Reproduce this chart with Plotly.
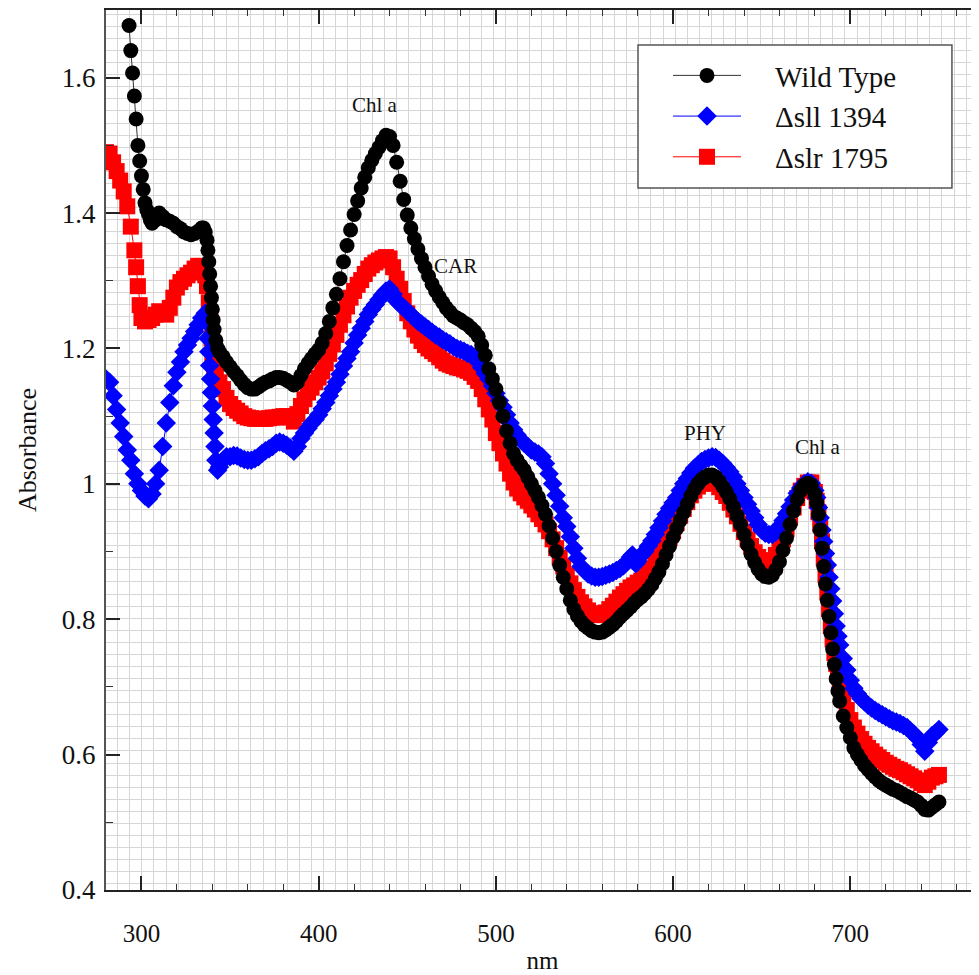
import plotly.graph_objects as go

# ---------------- data ----------------
# (wavelength nm, absorbance) pairs for each strain
wt_data = [
    (293, 1.677), (294, 1.640), (295, 1.607), (296, 1.573), (297, 1.539), (298, 1.500), (299, 1.477), (300, 1.455),
    (301, 1.435), (302, 1.415), (303, 1.405), (304, 1.398), (305, 1.390), (306, 1.385), (308, 1.390), (310, 1.400),
    (312, 1.395), (314, 1.390), (316, 1.388), (318, 1.385), (320, 1.380), (322, 1.377), (324, 1.372), (326, 1.370),
    (328, 1.368), (330, 1.370), (332, 1.373), (334, 1.378), (335, 1.378), (336, 1.372), (337, 1.360), (337.5, 1.345),
    (338, 1.328), (338.5, 1.310), (339, 1.292), (339.5, 1.275), (340, 1.258), (340.5, 1.242), (341, 1.228),
    (342, 1.212), (343, 1.200), (344, 1.195), (346, 1.188), (348, 1.180), (350, 1.173), (352, 1.166), (354, 1.160),
    (356, 1.153), (358, 1.147), (360, 1.142), (362, 1.140), (364, 1.140), (366, 1.143), (368, 1.147), (370, 1.150),
    (372, 1.152), (374, 1.155), (376, 1.157), (378, 1.157), (380, 1.156), (382, 1.153), (384, 1.150), (386, 1.146),
    (388, 1.150), (390, 1.160), (392, 1.170), (394, 1.178), (396, 1.185), (398, 1.192), (400, 1.198), (402, 1.208),
    (404, 1.222), (406, 1.240), (408, 1.260), (410, 1.280), (412, 1.303), (414, 1.328), (416, 1.352), (418, 1.375),
    (420, 1.398), (422, 1.418), (424, 1.437), (426, 1.453), (428, 1.467), (430, 1.478), (432, 1.488), (434, 1.497),
    (436, 1.507), (438, 1.515), (440, 1.513), (442, 1.500), (444, 1.475), (446, 1.447), (448, 1.420), (450, 1.397),
    (452, 1.378), (454, 1.362), (456, 1.347), (458, 1.333), (460, 1.320), (462, 1.307), (464, 1.295), (466, 1.285),
    (468, 1.276), (470, 1.268), (472, 1.260), (474, 1.254), (476, 1.248), (478, 1.245), (480, 1.242), (482, 1.238),
    (484, 1.235), (486, 1.230), (488, 1.225), (490, 1.218), (492, 1.205), (494, 1.190), (496, 1.170), (498, 1.155),
    (500, 1.140), (502, 1.120), (504, 1.100), (506, 1.078), (508, 1.060), (510, 1.045), (512, 1.035), (514, 1.027),
    (516, 1.020), (518, 1.010), (520, 1.000), (522, 0.990), (524, 0.980), (526, 0.968), (528, 0.955), (530, 0.938),
    (532, 0.920), (534, 0.900), (536, 0.880), (538, 0.862), (540, 0.845), (542, 0.828), (544, 0.815), (546, 0.805),
    (548, 0.797), (550, 0.791), (552, 0.787), (554, 0.783), (556, 0.781), (558, 0.780), (560, 0.781), (562, 0.784),
    (564, 0.788), (566, 0.792), (568, 0.797), (570, 0.803), (572, 0.808), (574, 0.813), (576, 0.818), (578, 0.824),
    (580, 0.829), (582, 0.833), (584, 0.838), (586, 0.844), (588, 0.851), (590, 0.860), (592, 0.870), (594, 0.882),
    (596, 0.895), (598, 0.908), (600, 0.921), (602, 0.934), (604, 0.946), (606, 0.958), (608, 0.970), (610, 0.982),
    (612, 0.992), (614, 1.000), (616, 1.006), (618, 1.010), (620, 1.013), (622, 1.013), (624, 1.010), (626, 1.004),
    (628, 0.996), (630, 0.988), (632, 0.978), (634, 0.966), (636, 0.953), (638, 0.940), (640, 0.925), (642, 0.910),
    (644, 0.896), (646, 0.884), (648, 0.874), (650, 0.867), (652, 0.863), (654, 0.862), (656, 0.865), (658, 0.873),
    (660, 0.885), (662, 0.902), (664, 0.920), (666, 0.940), (668, 0.960), (670, 0.977), (672, 0.990), (674, 0.998),
    (676, 1.001), (678, 0.998), (680, 0.985), (681, 0.972), (682, 0.955), (683, 0.932), (684, 0.905), (685, 0.878),
    (686, 0.852), (687, 0.828), (688, 0.804), (689, 0.780), (690, 0.756), (691, 0.733), (692, 0.712), (693, 0.694),
    (694, 0.679), (696, 0.657), (698, 0.640), (700, 0.625), (702, 0.610), (704, 0.600), (706, 0.592), (708, 0.584),
    (710, 0.578), (712, 0.572), (714, 0.567), (716, 0.562), (718, 0.558), (720, 0.555), (722, 0.552), (724, 0.549),
    (726, 0.547), (728, 0.544), (730, 0.541), (732, 0.538), (734, 0.536), (736, 0.533), (738, 0.530), (740, 0.525),
    (742, 0.519), (744, 0.518), (746, 0.522), (748, 0.526), (750, 0.530),
]

sll_data = [
    (280, 1.155), (282, 1.150), (284, 1.130), (286, 1.110), (288, 1.090), (290, 1.070), (292, 1.050), (294, 1.035),
    (296, 1.015), (298, 1.000), (300, 0.990), (302, 0.982), (304, 0.978), (306, 0.985), (308, 1.000), (310, 1.020),
    (312, 1.055), (314, 1.090), (316, 1.120), (318, 1.145), (320, 1.165), (322, 1.180), (324, 1.195), (326, 1.205),
    (328, 1.215), (330, 1.225), (332, 1.235), (334, 1.245), (336, 1.252), (337, 1.238), (337.5, 1.215), (338, 1.195),
    (338.5, 1.175), (339, 1.155), (339.5, 1.135), (340, 1.115), (340.5, 1.095), (341, 1.075), (341.5, 1.055),
    (342, 1.035), (343, 1.020), (344, 1.025), (346, 1.035), (348, 1.040), (350, 1.040), (352, 1.042), (354, 1.041),
    (356, 1.038), (358, 1.036), (360, 1.035), (362, 1.035), (364, 1.037), (366, 1.040), (368, 1.045), (370, 1.049),
    (372, 1.052), (374, 1.055), (376, 1.060), (378, 1.062), (380, 1.060), (382, 1.057), (384, 1.053), (386, 1.048),
    (388, 1.055), (390, 1.067), (392, 1.075), (394, 1.082), (396, 1.089), (398, 1.095), (400, 1.102), (402, 1.111),
    (404, 1.120), (406, 1.130), (408, 1.140), (410, 1.150), (412, 1.162), (414, 1.174), (416, 1.185), (418, 1.195),
    (420, 1.208), (422, 1.220), (424, 1.230), (426, 1.240), (428, 1.250), (430, 1.258), (432, 1.265), (434, 1.272),
    (436, 1.279), (438, 1.285), (440, 1.288), (442, 1.280), (444, 1.270), (446, 1.265), (448, 1.260), (450, 1.255),
    (452, 1.250), (454, 1.245), (456, 1.240), (458, 1.236), (460, 1.232), (462, 1.228), (464, 1.224), (466, 1.220),
    (468, 1.217), (470, 1.213), (472, 1.210), (474, 1.207), (476, 1.203), (478, 1.200), (480, 1.198), (482, 1.196),
    (484, 1.193), (486, 1.191), (488, 1.187), (490, 1.180), (492, 1.172), (494, 1.163), (496, 1.155), (498, 1.145),
    (500, 1.134), (502, 1.123), (504, 1.113), (506, 1.102), (508, 1.090), (510, 1.080), (512, 1.072), (514, 1.065),
    (516, 1.060), (518, 1.055), (520, 1.050), (522, 1.047), (524, 1.044), (526, 1.040), (528, 1.030), (530, 1.015),
    (532, 1.000), (534, 0.983), (536, 0.967), (538, 0.950), (540, 0.937), (542, 0.922), (544, 0.905), (546, 0.890),
    (548, 0.878), (550, 0.872), (552, 0.867), (554, 0.864), (556, 0.862), (558, 0.862), (560, 0.863), (562, 0.865),
    (564, 0.867), (566, 0.869), (568, 0.872), (570, 0.875), (572, 0.879), (574, 0.885), (576, 0.892), (577, 0.895),
    (578, 0.888), (579, 0.882), (580, 0.886), (582, 0.894), (584, 0.900), (586, 0.908), (588, 0.916), (590, 0.925),
    (592, 0.935), (594, 0.945), (596, 0.955), (598, 0.964), (600, 0.972), (602, 0.980), (604, 0.990), (606, 1.000),
    (608, 1.008), (610, 1.016), (612, 1.023), (614, 1.028), (616, 1.033), (618, 1.036), (620, 1.038), (622, 1.040),
    (624, 1.039), (626, 1.035), (628, 1.030), (630, 1.024), (632, 1.018), (634, 1.010), (636, 1.000), (638, 0.990),
    (640, 0.980), (642, 0.970), (644, 0.960), (646, 0.950), (648, 0.940), (650, 0.932), (652, 0.927), (654, 0.925),
    (656, 0.925), (658, 0.929), (660, 0.937), (662, 0.946), (664, 0.956), (666, 0.966), (668, 0.976), (670, 0.986),
    (672, 0.994), (674, 1.000), (676, 1.003), (678, 1.001), (680, 0.990), (681, 0.980), (682, 0.965), (683, 0.950),
    (684, 0.932), (685, 0.915), (686, 0.897), (687, 0.880), (688, 0.862), (689, 0.845), (690, 0.827), (691, 0.808),
    (692, 0.790), (693, 0.775), (694, 0.762), (696, 0.742), (698, 0.725), (700, 0.710), (702, 0.698), (704, 0.690),
    (706, 0.683), (708, 0.678), (710, 0.673), (712, 0.669), (714, 0.665), (716, 0.662), (718, 0.659), (720, 0.656),
    (722, 0.653), (724, 0.650), (726, 0.648), (728, 0.646), (730, 0.643), (732, 0.640), (734, 0.635), (736, 0.630),
    (738, 0.624), (740, 0.615), (742, 0.605), (744, 0.618), (746, 0.628), (748, 0.632), (750, 0.637),
]

slr_data = [
    (280, 1.490), (282, 1.488), (284, 1.475), (286, 1.462), (288, 1.448), (290, 1.432), (292, 1.410), (294, 1.380),
    (296, 1.345), (297, 1.320), (298, 1.292), (299, 1.264), (300, 1.245), (302, 1.240), (304, 1.242), (306, 1.245),
    (308, 1.250), (310, 1.255), (312, 1.253), (314, 1.250), (316, 1.260), (318, 1.275), (320, 1.290), (322, 1.298),
    (324, 1.303), (326, 1.308), (328, 1.312), (330, 1.318), (332, 1.322), (334, 1.322), (335, 1.318), (336, 1.308),
    (337, 1.292), (338, 1.268), (339, 1.240), (339.5, 1.215), (340, 1.190), (341, 1.172), (342, 1.162), (344, 1.150),
    (346, 1.140), (348, 1.127), (350, 1.118), (352, 1.112), (354, 1.108), (356, 1.104), (358, 1.100), (360, 1.098),
    (362, 1.097), (364, 1.096), (366, 1.096), (368, 1.096), (370, 1.096), (372, 1.097), (374, 1.098), (376, 1.098),
    (378, 1.099), (380, 1.100), (382, 1.100), (384, 1.098), (386, 1.092), (388, 1.103), (390, 1.115), (392, 1.125),
    (394, 1.135), (396, 1.142), (398, 1.150), (400, 1.157), (402, 1.166), (404, 1.178), (406, 1.192), (408, 1.206),
    (410, 1.220), (412, 1.235), (414, 1.249), (416, 1.262), (418, 1.275), (420, 1.285), (422, 1.294), (424, 1.301),
    (426, 1.310), (428, 1.318), (430, 1.323), (432, 1.327), (434, 1.330), (436, 1.333), (438, 1.335), (440, 1.333),
    (442, 1.320), (444, 1.303), (446, 1.288), (448, 1.270), (450, 1.252), (452, 1.240), (454, 1.228), (456, 1.219),
    (458, 1.211), (460, 1.205), (462, 1.200), (464, 1.196), (466, 1.192), (468, 1.187), (470, 1.182), (472, 1.178),
    (474, 1.176), (476, 1.174), (478, 1.172), (480, 1.171), (482, 1.169), (484, 1.167), (486, 1.164), (488, 1.158),
    (490, 1.152), (492, 1.140), (494, 1.125), (496, 1.110), (498, 1.095), (500, 1.075), (502, 1.060), (504, 1.045),
    (506, 1.030), (508, 1.015), (510, 1.002), (512, 0.993), (514, 0.986), (516, 0.980), (518, 0.975), (520, 0.968),
    (522, 0.962), (524, 0.955), (526, 0.948), (528, 0.940), (530, 0.930), (532, 0.918), (534, 0.905), (536, 0.891),
    (538, 0.878), (540, 0.865), (542, 0.853), (544, 0.843), (546, 0.833), (548, 0.825), (550, 0.819), (552, 0.813),
    (554, 0.809), (556, 0.807), (558, 0.806), (560, 0.807), (562, 0.810), (564, 0.815), (566, 0.820), (568, 0.826),
    (570, 0.832), (572, 0.837), (574, 0.842), (576, 0.847), (578, 0.850), (580, 0.854), (582, 0.857), (584, 0.862),
    (586, 0.868), (588, 0.875), (590, 0.884), (592, 0.892), (594, 0.900), (596, 0.910), (598, 0.920), (600, 0.930),
    (602, 0.942), (604, 0.953), (606, 0.963), (608, 0.973), (610, 0.983), (612, 0.990), (614, 0.996), (616, 1.000),
    (618, 1.003), (620, 1.005), (622, 1.004), (624, 1.000), (626, 0.995), (628, 0.988), (630, 0.982), (632, 0.972),
    (634, 0.962), (636, 0.952), (638, 0.941), (640, 0.929), (642, 0.918), (644, 0.908), (646, 0.899), (648, 0.892),
    (650, 0.887), (652, 0.885), (654, 0.884), (656, 0.887), (658, 0.895), (660, 0.905), (662, 0.918), (664, 0.933),
    (666, 0.950), (668, 0.965), (670, 0.979), (672, 0.990), (674, 0.997), (676, 1.002), (678, 1.002), (680, 0.988),
    (681, 0.975), (682, 0.958), (683, 0.940), (684, 0.915), (685, 0.890), (686, 0.865), (687, 0.840), (688, 0.815),
    (689, 0.790), (690, 0.770), (691, 0.750), (692, 0.734), (693, 0.720), (694, 0.707), (696, 0.686), (698, 0.666),
    (700, 0.651), (702, 0.640), (704, 0.631), (706, 0.623), (708, 0.616), (710, 0.610), (712, 0.605), (714, 0.600),
    (716, 0.596), (718, 0.592), (720, 0.588), (722, 0.585), (724, 0.582), (726, 0.579), (728, 0.577), (730, 0.574),
    (732, 0.571), (734, 0.568), (736, 0.565), (738, 0.562), (740, 0.558), (742, 0.555), (744, 0.560), (746, 0.566),
    (748, 0.568), (750, 0.570),
]

series_names = ["Wild Type", "\u0394sll 1394", "\u0394slr 1795"]
x_ticks = [300, 400, 500, 600, 700]
y_ticks = [0.4, 0.6, 0.8, 1.0, 1.2, 1.4, 1.6]
y_ticktext = ["0.4", "0.6", "0.8", "1", "1.2", "1.4", "1.6"]
peak_labels = ["Chl a", "CAR", "PHY", "Chl a"]
peak_nm = [432, 477, 618, 682]
peak_abs = [1.559, 1.322, 1.075, 1.054]

X_RANGE = [280, 772.6]
Y_RANGE = [0.4, 1.7]
SERIF = "Liberation Serif"
PAD = "\u00a0\u00a0\u00a0\u00a0"

wt_nm = [p[0] for p in wt_data]
wt_abs = [p[1] for p in wt_data]
sll_nm = [p[0] for p in sll_data]
sll_abs = [p[1] for p in sll_data]
slr_nm = [p[0] for p in slr_data]
slr_abs = [p[1] for p in slr_data]

fig = go.Figure()

# drawing order: red (bottom), blue, black (top); legend order via legendrank
fig.add_trace(go.Scatter(x=slr_nm, y=slr_abs, name=PAD + series_names[2], mode="lines+markers",
                         line=dict(color="#ff0000", width=1),
                         marker=dict(symbol="square", size=16, color="#ff0000", line=dict(width=0)),
                         legendrank=3))
fig.add_trace(go.Scatter(x=sll_nm, y=sll_abs, name=PAD + series_names[1], mode="lines+markers",
                         line=dict(color="#0000ff", width=1),
                         marker=dict(symbol="diamond", size=15, color="#0000ff", line=dict(width=0)),
                         legendrank=2))
fig.add_trace(go.Scatter(x=wt_nm, y=wt_abs, name=PAD + series_names[0], mode="lines+markers",
                         line=dict(color="#333333", width=1),
                         marker=dict(symbol="circle", size=15, color="#000000", line=dict(width=0)),
                         legendrank=1))
# empty traces that activate the grid-only and right-tick overlay axes
fig.add_trace(go.Scatter(x=[], y=[], xaxis="x3", yaxis="y3", showlegend=False, hoverinfo="skip"))
fig.add_trace(go.Scatter(x=[], y=[], yaxis="y2", showlegend=False, hoverinfo="skip"))

for txt, xx, yy in zip(peak_labels, peak_nm, peak_abs):
    fig.add_annotation(x=xx, y=yy, text=txt, showarrow=False,
                       font=dict(family=SERIF, size=21, color="#111111"))

# legend frame
fig.add_shape(type="rect", xref="paper", yref="paper", x0=0.6094, x1=0.969, y0=0.7977, y1=0.9602,
              line=dict(color="#555555", width=1.5), fillcolor="white", layer="above")

fig.update_layout(
    width=971, height=967,
    margin=dict(l=98, r=0, t=2, b=85),
    paper_bgcolor="white", plot_bgcolor="white",
    font=dict(family=SERIF, color="#111111"),
    showlegend=True,
    legend=dict(x=0.6094, y=0.9545, xanchor="left", yanchor="top",
                bgcolor="rgba(0,0,0,0)", borderwidth=0,
                font=dict(family=SERIF, size=29, color="#111111"),
                itemwidth=68, indentation=30, tracegroupgap=0),
    xaxis=dict(range=X_RANGE, tickvals=x_ticks, showgrid=False, zeroline=False, automargin=False,
               showline=True, linecolor="#222222", linewidth=2, mirror="ticks",
               ticks="inside", ticklen=14, tickwidth=1.5, tickcolor="#222222",
               minor=dict(dtick=20, tick0=0, ticks="inside", ticklen=6, tickwidth=1,
                          tickcolor="#333333", showgrid=False),
               tickfont=dict(family=SERIF, size=25, color="#111111"), ticklabelstandoff=20,
               title=dict(text="nm", font=dict(family=SERIF, size=25, color="#111111"), standoff=5)),
    yaxis=dict(range=Y_RANGE, tickvals=y_ticks, ticktext=y_ticktext, showgrid=False, zeroline=False,
               automargin=False,
               showline=True, linecolor="#555555", linewidth=2,
               ticks="inside", ticklen=14, tickwidth=1.5, tickcolor="#222222",
               minor=dict(dtick=0.1, tick0=0, ticks="inside", ticklen=7, tickwidth=1,
                          tickcolor="#333333", showgrid=False),
               tickfont=dict(family=SERIF, size=27, color="#111111"), ticklabelstandoff=3,
               title=dict(text="Absorbance", font=dict(family=SERIF, size=26, color="#111111"), standoff=18)),
    yaxis2=dict(range=Y_RANGE, overlaying="y", side="right", anchor="x", showgrid=False,
                zeroline=False, showline=False, tickvals=y_ticks, showticklabels=False, automargin=False,
                ticks="inside", ticklen=8, tickwidth=1.5, tickcolor="#444444"),
    xaxis3=dict(range=X_RANGE, overlaying="x", showgrid=True, gridcolor="#d6d6d6", gridwidth=1,
                tick0=724.3, dtick=6.84, showticklabels=False, ticks="", zeroline=False,
                showline=False, anchor="y3", automargin=False),
    yaxis3=dict(range=Y_RANGE, overlaying="y", showgrid=True, gridcolor="#d6d6d6", gridwidth=1,
                tick0=1.426, dtick=0.01784, showticklabels=False, ticks="", zeroline=False,
                showline=False, anchor="x3", automargin=False),
)

fig.write_html("out.html")
